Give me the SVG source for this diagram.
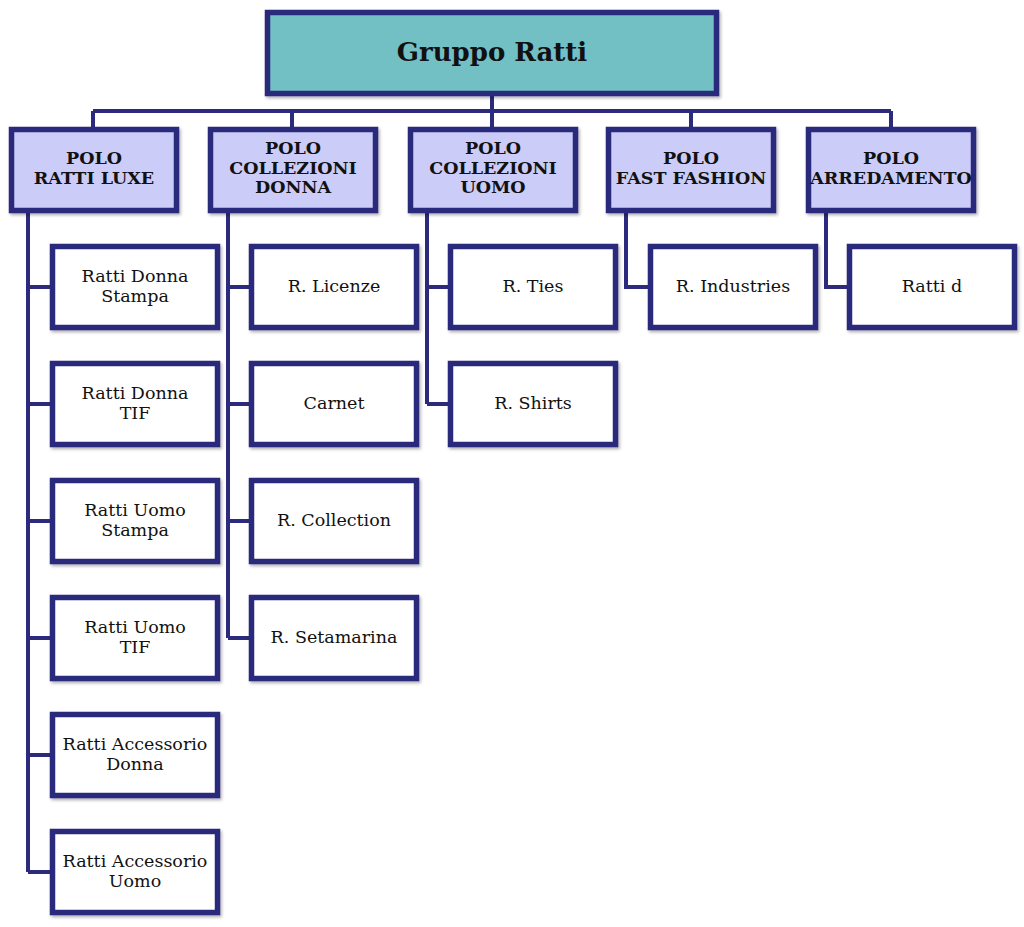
<svg xmlns="http://www.w3.org/2000/svg" width="1024" height="927" viewBox="0 0 1024 927">
<defs>
<filter id="sh" x="-10%" y="-10%" width="130%" height="130%"><feDropShadow dx="1.5" dy="2" stdDeviation="1.5" flood-color="#000" flood-opacity="0.3"/></filter>
<style>
.box{stroke:#2C2A7C;stroke-width:5.5;filter:url(#sh)}
.top{fill:#72BFC4}
.polo{fill:#CCCCF8}
.leaf{fill:#FFFFFF}
.ln{stroke:#2C2A7C;stroke-width:4;fill:none}
text{font-family:"DejaVu Serif","Liberation Serif",serif;text-anchor:middle;fill:#111}
.t{font-size:26px;font-weight:bold}
.p{font-size:17.5px;font-weight:bold}
.c{font-size:17.5px}
</style>
</defs>
<rect width="1024" height="927" fill="#fff"/>
<g id="connectors" class="ln">
<path d="M492 96V111M93 111H891M93 111V129M292 111V129M492 111V129M691 111V129M891 111V129"/>
<path d="M28 212V872M28 287H52M28 404H52M28 521H52M28 638H52M28 755H52M28 872H52"/>
<path d="M228 212V638M228 287H251M228 404H251M228 521H251M228 638H251"/>
<path d="M427 212V404M427 287H450M427 404H450"/>
<path d="M626 212V287H650"/>
<path d="M826 212V287H849"/>
</g>
<g id="gruppo"><rect class="box top" x="267.5" y="12.5" width="449" height="81"/><text class="t" x="492" y="61">Gruppo Ratti</text></g>
<g id="polo-luxe"><rect class="box polo" x="11.5" y="129.5" width="165" height="81"/><text class="p" x="94" y="164">POLO</text><text class="p" x="94" y="184">RATTI LUXE</text></g>
<g id="polo-donna"><rect class="box polo" x="210.5" y="129.5" width="165" height="81"/><text class="p" x="293" y="154">POLO</text><text class="p" x="293" y="174">COLLEZIONI</text><text class="p" x="293" y="193">DONNA</text></g>
<g id="polo-uomo"><rect class="box polo" x="410.5" y="129.5" width="165" height="81"/><text class="p" x="493" y="154">POLO</text><text class="p" x="493" y="174">COLLEZIONI</text><text class="p" x="493" y="193">UOMO</text></g>
<g id="polo-fast"><rect class="box polo" x="608.5" y="129.5" width="165" height="81"/><text class="p" x="691" y="164">POLO</text><text class="p" x="691" y="184">FAST FASHION</text></g>
<g id="polo-arred"><rect class="box polo" x="808.5" y="129.5" width="165" height="81"/><text class="p" x="891" y="164">POLO</text><text class="p" x="891" y="184">ARREDAMENTO</text></g>
<g id="c1"><rect class="box leaf" x="52.5" y="246.5" width="165" height="81"/><text class="c" x="135" y="282">Ratti Donna</text><text class="c" x="135" y="302">Stampa</text></g>
<g id="c2"><rect class="box leaf" x="52.5" y="363.5" width="165" height="81"/><text class="c" x="135" y="399">Ratti Donna</text><text class="c" x="135" y="419">TIF</text></g>
<g id="c3"><rect class="box leaf" x="52.5" y="480.5" width="165" height="81"/><text class="c" x="135" y="516">Ratti Uomo</text><text class="c" x="135" y="536">Stampa</text></g>
<g id="c4"><rect class="box leaf" x="52.5" y="597.5" width="165" height="81"/><text class="c" x="135" y="633">Ratti Uomo</text><text class="c" x="135" y="653">TIF</text></g>
<g id="c5"><rect class="box leaf" x="52.5" y="714.5" width="165" height="81"/><text class="c" x="135" y="750">Ratti Accessorio</text><text class="c" x="135" y="770">Donna</text></g>
<g id="c6"><rect class="box leaf" x="52.5" y="831.5" width="165" height="81"/><text class="c" x="135" y="867">Ratti Accessorio</text><text class="c" x="135" y="887">Uomo</text></g>
<g id="d1"><rect class="box leaf" x="251.5" y="246.5" width="165" height="81"/><text class="c" x="334" y="292">R. Licenze</text></g>
<g id="d2"><rect class="box leaf" x="251.5" y="363.5" width="165" height="81"/><text class="c" x="334" y="409">Carnet</text></g>
<g id="d3"><rect class="box leaf" x="251.5" y="480.5" width="165" height="81"/><text class="c" x="334" y="526">R. Collection</text></g>
<g id="d4"><rect class="box leaf" x="251.5" y="597.5" width="165" height="81"/><text class="c" x="334" y="643">R. Setamarina</text></g>
<g id="u1"><rect class="box leaf" x="450.5" y="246.5" width="165" height="81"/><text class="c" x="533" y="292">R. Ties</text></g>
<g id="u2"><rect class="box leaf" x="450.5" y="363.5" width="165" height="81"/><text class="c" x="533" y="409">R. Shirts</text></g>
<g id="f1"><rect class="box leaf" x="650.5" y="246.5" width="165" height="81"/><text class="c" x="733" y="292">R. Industries</text></g>
<g id="a1"><rect class="box leaf" x="849.5" y="246.5" width="165" height="81"/><text class="c" x="932" y="292">Ratti d</text></g>
</svg>
